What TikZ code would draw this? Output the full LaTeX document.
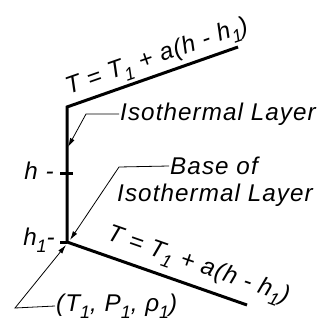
\documentclass[tikz,border=0pt]{standalone}
\usepackage{fontspec}
\setmainfont{Liberation Sans}[LetterSpace=4.5]
\usetikzlibrary{arrows.meta, positioning}
\newcommand{\lowidx}[1]{\raisebox{-0.28em}{\fontsize{18}{18}\selectfont #1}}
\tikzset{
    curve/.style={line width=3pt, line join=miter},
    tick/.style={line width=3pt},
    leader/.style={line width=0.8pt, -{Latex[length=9pt, width=5pt]}},
    lbl/.style={font=\fontsize{24.2}{28}\selectfont\itshape, inner sep=1pt}
}

\begin{document}
\begin{tikzpicture}[x=1pt, y=-1pt]
    \useasboundingbox (0,0) rectangle (326,326);

    \coordinate (top) at (67,107);
    \coordinate (base) at (67,242);
    \coordinate (upend) at (238,47);
    \coordinate (lowend) at (247,305);

    \draw [curve] (upend) -- (top) -- (base) -- (lowend);
    \path (top) -- (upend) node [lbl, pos=0.56, above=3pt, sloped] (upeq) {T = T\lowidx{1} + a(h - h\lowidx{1})};
    \path (base) -- (lowend) node [lbl, pos=0.69, above=7pt, sloped] (loweq) {T = T\lowidx{1} + a(h - h\lowidx{1})};

    % height marks
    \coordinate (hmark) at (67,173);
    \draw [tick] ([xshift=-7pt]hmark) -- ([xshift=6pt]hmark);
    \draw [tick] ([xshift=-7pt]base) -- (base);
    \node [lbl, anchor=east] (h) at (55,171) {h -};
    \node [lbl, anchor=east] (hone) at (56,240) {h\lowidx{1}-};

    % leaders
    \node [lbl, anchor=west] (iso) at (119,114) {Isothermal Layer};
    \coordinate (isobend) at (86,114);
    \coordinate (isotip) at (68,147);
    \draw [leader] (iso.west) -- (isobend) -- (isotip);

    \node [lbl] (baseof) at (214,166) {Base of};
    \node [lbl, anchor=west] (baseiso) at (116,195) {Isothermal Layer};
    \coordinate (basebend) at (119,167);
    \coordinate (basetip) at (70,240);
    \draw [leader] (baseof.west) -- (basebend) -- (basetip);

    \node [lbl, anchor=west] (state) at (55,306) {(T\lowidx{1}, P\lowidx{1}, ρ\lowidx{1})};
    \coordinate (statebend) at (15,308);
    \coordinate (statetip) at (66,245);
    \draw [leader] (state.west) -- (statebend) -- (statetip);
\end{tikzpicture}
\end{document}
